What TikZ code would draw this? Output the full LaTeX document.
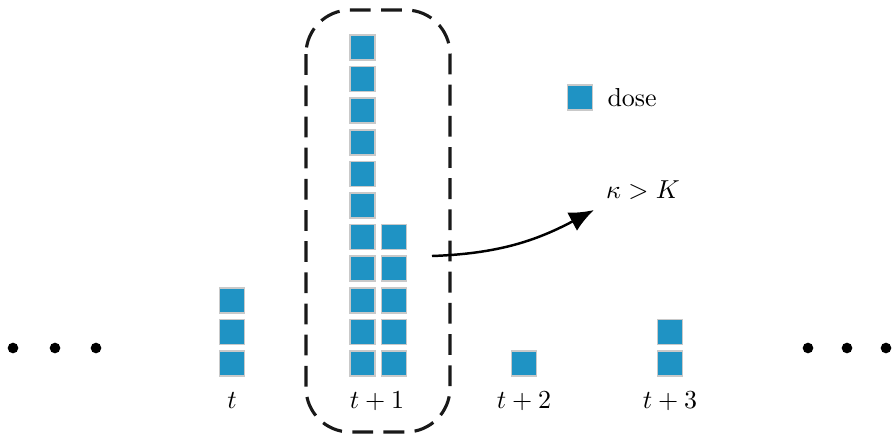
\documentclass[tikz,border=0pt]{standalone}
\usetikzlibrary{arrows.meta}
\definecolor{dosefill}{HTML}{1F93C4}
\definecolor{doseedge}{HTML}{C9C9C9}
\tikzset{
  dosebox/.style={draw=doseedge, fill=dosefill, line width=0.6pt,
    minimum size=9.6pt, inner sep=0pt, outer sep=0pt},
  steplabel/.style={inner sep=0pt, anchor=center},
  bigdot/.style={circle, fill=black, minimum size=4.1pt, inner sep=0pt},
  windowbox/.style={draw=black!90, line width=1.2pt,
    dash pattern=on 8pt off 4pt, rounded corners=17pt},
}
\begin{document}
\begin{tikzpicture}[x=0.385pt, y=-0.385pt]
  \useasboundingbox (0,0) rectangle (893,435);

  % dose stacks per time step (pitch 31.6 px, bottom row at y=363.5)
  \foreach \i in {1,...,3}
    \node[dosebox] (a\i) at (232, {363.5-31.6*(\i-1)}) {};
  \foreach \i in {1,...,11}
    \node[dosebox] (b\i) at (362.5, {363.5-31.6*(\i-1)}) {};
  \foreach \i in {1,...,5}
    \node[dosebox] (c\i) at (394, {363.5-31.6*(\i-1)}) {};
  \node[dosebox] (d1) at (524, 363.5) {};
  \foreach \i in {1,2}
    \node[dosebox] (e\i) at (670, {363.5-31.6*(\i-1)}) {};

  % time labels
  \node[steplabel] (lt)  at (232, 401)   {$t$};
  \node[steplabel] (lt1) at (377, 401)   {$t+1$};
  \node[steplabel] (lt2) at (524, 401)   {$t+2$};
  \node[steplabel] (lt3) at (670, 401)   {$t+3$};

  % ellipsis dots
  \foreach \x [count=\k] in {13,55,96}
    \node[bigdot] (ld\k) at (\x, 348) {};
  \foreach \x [count=\k] in {808,847,886}
    \node[bigdot] (rd\k) at (\x, 348) {};

  % highlighted time window
  \draw[windowbox] (306,10) rectangle (450,432);

  % legend
  \node[dosebox] (leg) at (580, 97.5) {};
  \node[anchor=west, inner sep=0pt] (legtxt) at (607, 98) {dose};

  % threshold annotation
  \node[inner sep=0pt] (kap) at (643, 190) {$\kappa > K$};
  \coordinate (arrstart) at (432, 256);
  \coordinate (arrend) at (594, 210);
  \draw[line width=0.95pt, -{Latex[length=9.5pt, width=8pt]}]
    (arrstart) to[out=2, in=208] (arrend);
\end{tikzpicture}
\end{document}
